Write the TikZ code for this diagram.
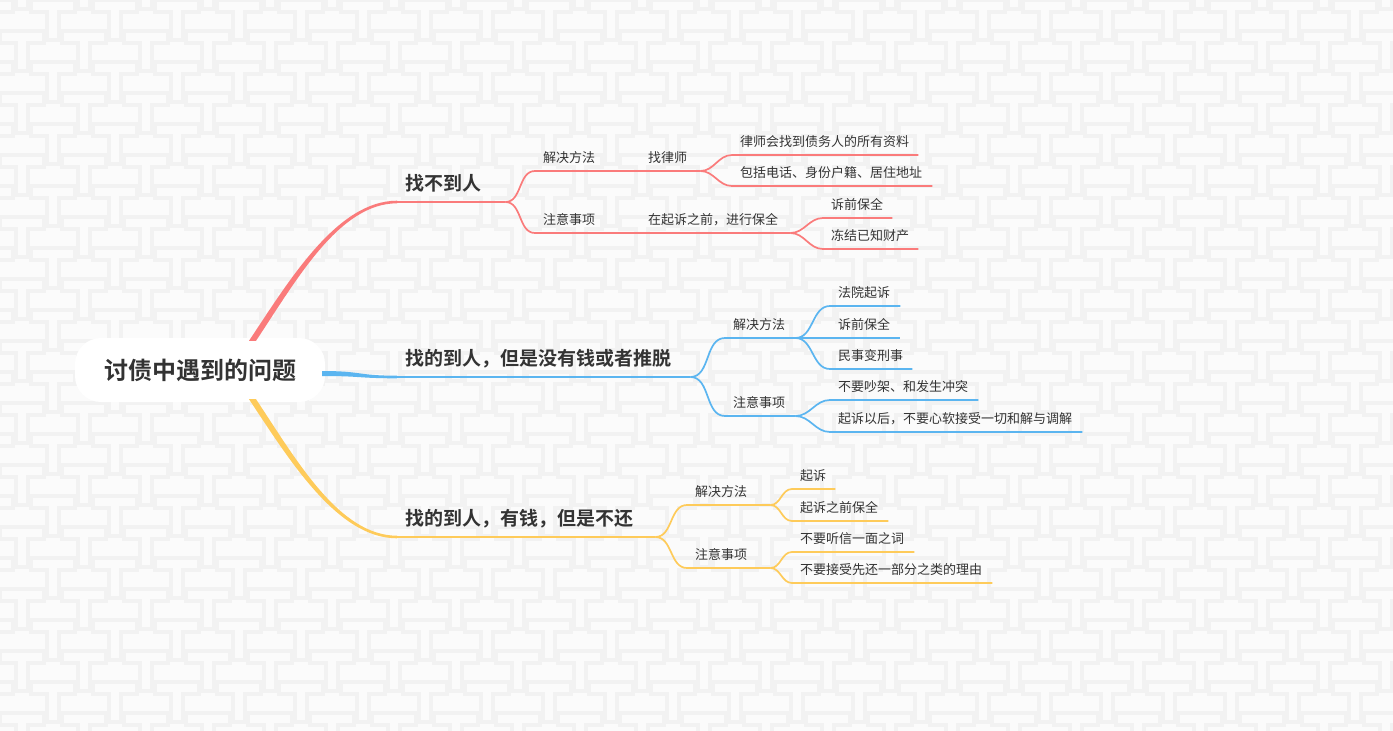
\documentclass[tikz,border=0pt]{standalone}
\usepackage{fontspec}
\newfontfamily\cjk{Noto Sans CJK SC}[BoldFont={Noto Sans CJK SC Bold}]
\definecolor{bgc}{HTML}{FBFBFB}
\definecolor{bgline}{HTML}{F2F2F2}
\definecolor{txt}{HTML}{333333}
\definecolor{redc}{HTML}{FA7B7B}
\definecolor{bluec}{HTML}{5BB5F0}
\definecolor{yelc}{HTML}{FECB5A}
\begin{document}
\begin{tikzpicture}[x=1pt,y=-1pt,text=txt,
  leaf/.style={anchor=south west,inner xsep=8pt,inner ysep=6pt,align=left,
    text height=11pt,text depth=2pt,font=\cjk\fontsize{13}{16}\selectfont},
  main/.style={leaf,inner ysep=8pt,text height=16pt,text depth=3pt,
    font=\cjk\bfseries\fontsize{19}{23}\selectfont},
  sub/.style={line width=1.7pt}]
% Canvas
\fill[bgc] (0,0) rectangle (1393,731);
\useasboundingbox (0,0) rectangle (1393,731);
\begin{scope}
\clip (0,0) rectangle (1393,731);
\foreach \j in {-1,...,23} {
  \foreach \i in {-1,...,22} {
    \pgfmathsetmacro{\xo}{\i*62+mod(\j+1,2)*31}
    \draw[bgline,line width=3.5pt] (\xo,\j*31) -- ++(44,0) -- ++(0,12) -- ++(-16,0) -- ++(0,28)
      -- ++(-12,0) -- ++(0,-28) -- ++(-16,0) -- cycle;
  }
}
\end{scope}

% Root
\node[fill=white,rounded corners=26pt,minimum width=250pt,minimum height=64pt,
  font=\cjk\bfseries\fontsize{24}{28}\selectfont] (R) at (200,370)
{讨债中遇到的问题};

% Branch 1
\node[main,text width=92pt] (A0) at (397,202) {找不到人};
\node[leaf,text width=59pt] (A1) at (535,171) {解决方法};
\node[leaf,text width=44pt] (A2) at (640,171) {找律师};
\node[leaf,text width=170pt] (A3) at (732,155) {律师会找到债务人的所有资料};
\node[leaf,text width=184pt] (A4) at (732,186) {包括电话、身份户籍、居住地址};
\node[leaf,text width=59pt] (A5) at (535,233) {注意事项};
\node[leaf,text width=134pt] (A6) at (640,233) {在起诉之前，进行保全};
\node[leaf,text width=53pt] (A7) at (823,218) {诉前保全};
\node[leaf,text width=79pt] (A8) at (823,249) {冻结已知财产};

\fill[redc] ([shift={(49,3)}]R.north) .. controls +(40,-60) and +(-60,0) .. ([shift={(0,-1.3)}]A0.south west)
  -- ([shift={(0,1.3)}]A0.south west) .. controls +(-58,0) and +(40,-60) .. ([shift={(56,3)}]R.north) -- cycle;
\draw[redc,line width=2.4pt] (A0.south west)--(A0.south east);
\draw[redc,sub] (A0.south east) to[out=0,in=180] (A1.south west)--(A1.south east)--(A2.south west)--(A2.south east);
\draw[redc,sub] (A2.south east) to[out=0,in=180] (A3.south west)--(A3.south east);
\draw[redc,sub] (A2.south east) to[out=0,in=180] (A4.south west)--(A4.south east);
\draw[redc,sub] (A0.south east) to[out=0,in=180] (A5.south west)--(A5.south east)--(A6.south west)--(A6.south east);
\draw[redc,sub] (A6.south east) to[out=0,in=180] (A7.south west)--(A7.south east);
\draw[redc,sub] (A6.south east) to[out=0,in=180] (A8.south west)--(A8.south east);

% Branch 2
\node[main,text width=277pt] (B0) at (397,377) {找的到人，但是没有钱或者推脱};
\node[leaf,text width=54pt] (B1) at (725,338) {解决方法};
\node[leaf,text width=54pt] (B2) at (725,416) {注意事项};
\node[leaf,text width=54pt] (B3) at (830,306) {法院起诉};
\node[leaf,text width=54pt] (B4) at (830,338) {诉前保全};
\node[leaf,text width=66pt] (B5) at (830,369) {民事变刑事};
\node[leaf,text width=132pt] (B6) at (830,400) {不要吵架、和发生冲突};
\node[leaf,text width=236pt] (B7) at (830,432) {起诉以后，不要心软接受一切和解与调解};

\fill[bluec] ([shift={(-3,1)}]R.east) .. controls +(40,0) and +(-40,0) .. ([shift={(0,-1.3)}]B0.south west)
  -- ([shift={(0,1.3)}]B0.south west) .. controls +(-40,0) and +(40,0) .. ([shift={(-3,6)}]R.east) -- cycle;
\draw[bluec,line width=2.4pt] (B0.south west)--(B0.south east);
\draw[bluec,sub] (B0.south east) to[out=0,in=180] (B1.south west)--(B1.south east);
\draw[bluec,sub] (B0.south east) to[out=0,in=180] (B2.south west)--(B2.south east);
\draw[bluec,sub] (B1.south east) to[out=0,in=180] (B3.south west)--(B3.south east);
\draw[bluec,sub] (B1.south east) -- (B4.south west)--(B4.south east);
\draw[bluec,sub] (B1.south east) to[out=0,in=180] (B5.south west)--(B5.south east);
\draw[bluec,sub] (B2.south east) to[out=0,in=180] (B6.south west)--(B6.south east);
\draw[bluec,sub] (B2.south east) to[out=0,in=180] (B7.south west)--(B7.south east);

% Branch 3
\node[main,text width=242pt] (C0) at (397,537) {找的到人，有钱，但是不还};
\node[leaf,text width=67pt] (C1) at (687,505) {解决方法};
\node[leaf,text width=67pt] (C2) at (687,568) {注意事项};
\node[leaf,text width=27pt] (C3) at (792,489) {起诉};
\node[leaf,text width=80pt] (C4) at (792,521) {起诉之前保全};
\node[leaf,text width=106pt] (C5) at (792,552) {不要听信一面之词};
\node[leaf,text width=184pt] (C6) at (792,583) {不要接受先还一部分之类的理由};

\fill[yelc] ([shift={(49,-3)}]R.south) .. controls +(40,60) and +(-60,0) .. ([shift={(0,1.3)}]C0.south west)
  -- ([shift={(0,-1.3)}]C0.south west) .. controls +(-58,0) and +(40,60) .. ([shift={(56,-3)}]R.south) -- cycle;
\draw[yelc,line width=2.4pt] (C0.south west)--(C0.south east);
\draw[yelc,sub] (C0.south east) to[out=0,in=180] (C1.south west)--(C1.south east);
\draw[yelc,sub] (C0.south east) to[out=0,in=180] (C2.south west)--(C2.south east);
\draw[yelc,sub] (C1.south east) to[out=0,in=180] (C3.south west)--(C3.south east);
\draw[yelc,sub] (C1.south east) to[out=0,in=180] (C4.south west)--(C4.south east);
\draw[yelc,sub] (C2.south east) to[out=0,in=180] (C5.south west)--(C5.south east);
\draw[yelc,sub] (C2.south east) to[out=0,in=180] (C6.south west)--(C6.south east);
\end{tikzpicture}
\end{document}
